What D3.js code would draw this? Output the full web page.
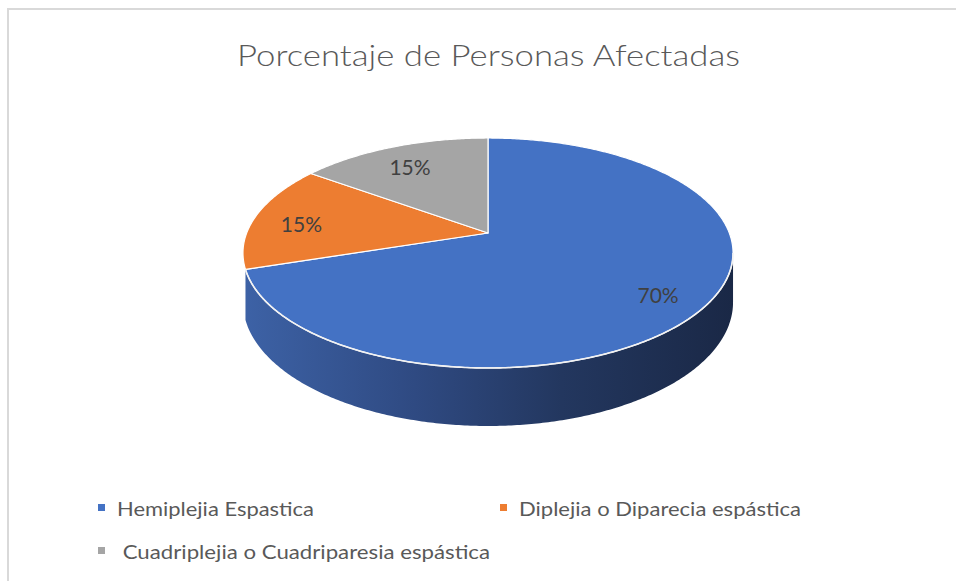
<!DOCTYPE html>
<html>
<head>
<meta charset="utf-8">
<script src="https://cdn.jsdelivr.net/npm/d3@7"></script>
<style>
  html, body { margin: 0; padding: 0; background: #ffffff; }
  svg { display: block; }
  text { white-space: pre; }
</style>
</head>
<body>
<svg id="chart" width="956" height="581"></svg>
<script>
// ---- data ----
const title = "Porcentaje de Personas Afectadas";
const categories = ["Hemiplejia Espastica", "Diplejia o Diparecia espástica", " Cuadriplejia o Cuadriparesia espástica"];
const values = [70, 15, 15];
const percentLabels = ["70%", "15%", "15%"];
const colors = ["#4472c4", "#ed7d31", "#a5a5a5"];

// ---- layout ----
const W = 956, H = 581;
const svg = d3.select("#chart");
const font = "Lato, 'Open Sans', 'DejaVu Sans', sans-serif";

// frame
svg.append("rect").attr("x", 8).attr("y", 9).attr("width", 1000).attr("height", 620)
  .attr("fill", "#fff").attr("stroke", "#d9d9d9").attr("stroke-width", 2);

// title
svg.append("text").attr("x", 237).attr("y", 66)
  .attr("textLength", 503).attr("lengthAdjust", "spacingAndGlyphs")
  .attr("font-family", font).attr("font-weight", 300).attr("font-size", 30)
  .attr("fill", "#595959").text(title);

// perspective ellipse model
const cx = 488, cy = 233, a = 241.3, b = 111.5, k = 0.1739, depth = 47.9;
function proj(theta, f, h) {
  const u = f * Math.sin(theta), v = -f * Math.cos(theta);
  const w = 1 - k * v;
  return [cx + a * u / w, cy + (b * v + h) / w];
}
const color = d3.scaleOrdinal().domain(categories).range(colors);
const pie = d3.pie().sort(null).value(d => d.value);
const arcs = pie(categories.map((c, i) => ({ name: c, value: values[i], label: percentLabels[i] })));
const line = d3.line();

function arcPoints(t0, t1, f, h) {
  const n = Math.max(2, Math.ceil(Math.abs(t1 - t0) / 0.01));
  return d3.range(n + 1).map(i => proj(t0 + (t1 - t0) * i / n, f, h));
}

// gradients for side wall
const defs = svg.append("defs");
const leftX = proj(Math.PI * 2 - Math.acos(-k), 1, 0)[0];
const rightX = proj(Math.acos(-k), 1, 0)[0];
const sideStops = {
  "#4472c4": ["#3d62a6", "#2f4a82", "#23375f", "#1a2846"],
  "#ed7d31": ["#b85f22", "#9a4f1c", "#7d4016", "#653311"],
  "#a5a5a5": ["#8a8a8a", "#707070", "#5a5a5a", "#484848"]
};
colors.forEach((c, i) => {
  const g = defs.append("linearGradient").attr("id", "side" + i)
    .attr("gradientUnits", "userSpaceOnUse")
    .attr("x1", leftX).attr("x2", rightX).attr("y1", 0).attr("y2", 0);
  const st = sideStops[c];
  [0, 0.35, 0.65, 1].forEach((o, j) => g.append("stop").attr("offset", o).attr("stop-color", st[j]));
});

// side wall (front visible portion); slivers that are nearly edge-on are skipped
const visStart = Math.acos(-k), visEnd = Math.PI * 2 - Math.acos(-k);
arcs.forEach((d, i) => {
  const s = Math.max(d.startAngle, visStart), e = Math.min(d.endAngle, visEnd);
  if (e - s < 0.2) return;
  const pts = arcPoints(s, e, 1, 0).concat(arcPoints(e, s, 1, depth));
  svg.append("path").attr("d", line(pts) + "Z").attr("fill", "url(#side" + i + ")");
});

// top faces
arcs.forEach(d => {
  const pts = [proj(0, 0, 0)].concat(arcPoints(d.startAngle, d.endAngle, 1, 0));
  svg.append("path").attr("d", line(pts) + "Z")
    .attr("fill", color(d.data.name))
    .attr("stroke", "#ffffff").attr("stroke-width", 1.2).attr("stroke-linejoin", "round");
});

// front rim highlight
svg.append("path").attr("d", line(arcPoints(visStart, arcs[0].endAngle, 1, 0)))
  .attr("fill", "none").attr("stroke", "#f2f2f2").attr("stroke-width", 1.6);

// data labels
arcs.forEach(d => {
  const mid = (d.startAngle + d.endAngle) / 2;
  const p = proj(mid, 0.8, 0);
  svg.append("text").attr("x", p[0]).attr("y", p[1] + 4)
    .attr("text-anchor", "middle").attr("dominant-baseline", "central")
    .attr("font-family", font).attr("font-size", 21).attr("fill", "#404040")
    .text(d.data.label);
});

// legend
const legendPos = [[98, 508], [500, 508], [98, 551]];
const legendLen = [197, 282, 373];
categories.forEach((c, i) => {
  const [x, y] = legendPos[i];
  svg.append("rect").attr("x", x).attr("y", y - 4).attr("width", 7).attr("height", 7).attr("fill", color(c));
  svg.append("text").attr("x", x + 19).attr("y", y + 8)
    .attr("textLength", legendLen[i]).attr("lengthAdjust", "spacingAndGlyphs")
    .attr("font-family", font).attr("font-size", 19).attr("fill", "#595959")
    .text(c);
});
</script>
</body>
</html>
